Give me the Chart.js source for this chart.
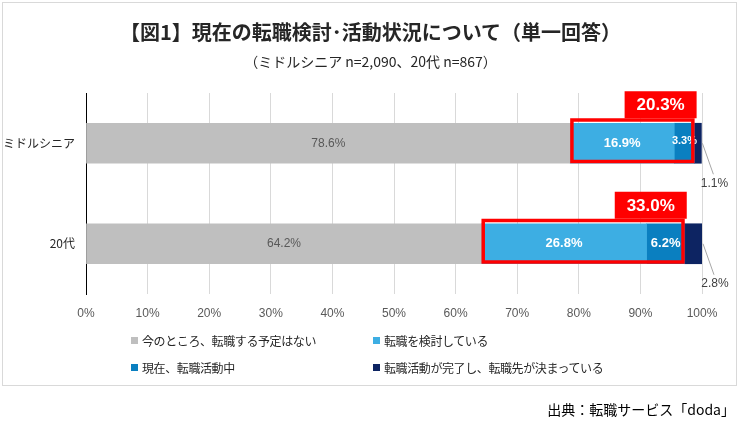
<!DOCTYPE html>
<html>
<head>
<meta charset="utf-8">
<script src="https://cdn.jsdelivr.net/npm/chart.js@4.4.1/dist/chart.umd.min.js"></script>
<style>
  body { margin: 0; background: #fff; font-family: "Noto Sans CJK JP", sans-serif; }
  #wrap { position: relative; width: 741px; height: 421px; overflow: hidden; }
  #frame { position: absolute; left: 2px; top: 2px; width: 733px; height: 382px; border: 1px solid #d9d9d9; }
  #chart { position: absolute; left: 0; top: 0; }
  .title { position: absolute; left: 0; width: 741px; text-align: center; top: 17px; font-size: 20px; font-weight: bold; color: #262626; }
  .sub { position: absolute; left: 0; width: 741px; text-align: center; top: 51px; font-size: 14px; color: #262626; }
  .legend { position: absolute; font-size: 12px; color: #262626; display: flex; align-items: center; letter-spacing: -0.4px; }
  .legend i { display: inline-block; width: 7px; height: 7px; margin-right: 4px; }
  .src { position: absolute; right: 6px; top: 399px; font-size: 14px; color: #000; }
</style>
</head>
<body>
<div id="wrap">
  <div id="frame"></div>
  <canvas id="chart" width="741" height="421"></canvas>
  <div class="title">【図1】現在の転職検討･活動状況について（単一回答）</div>
  <div class="sub">（ミドルシニア n=2,090、20代 n=867）</div>
  <div id="legendBox"></div>
  <div class="src">出典：転職サービス「doda」</div>
</div>
<script>
// chart data
const groups = ['ミドルシニア', '20代'];
const seriesNames = ['今のところ、転職する予定はない', '転職を検討している', '現在、転職活動中', '転職活動が完了し、転職先が決まっている'];
const notPlanning = [78.6, 64.2];
const considering = [16.9, 26.8];
const activeNow = [3.3, 6.2];
const decided = [1.1, 2.8];
const activeTotals = [20.3, 33.0];   // 検討+活動中 (as printed)
const seriesColors = ['#bfbfbf', '#3daee3', '#0a7fc0', '#0d2462'];

// legend (2 columns)
const legendBox = document.getElementById('legendBox');
seriesNames.forEach((name, i) => {
    const d = document.createElement('div');
    d.className = 'legend';
    d.style.left = (i % 2 === 0 ? 131 : 373) + 'px';
    d.style.top = (i < 2 ? 332 : 359) + 'px';
    d.innerHTML = '<i style="background:' + seriesColors[i] + '"></i>' + name;
    legendBox.appendChild(d);
});

// labels on segments, red frames and leader lines
const labelPlugin = {
    id: 'segLabels',
    afterDatasetsDraw(chart) {
        const ctx = chart.ctx;
        ctx.save();
        chart.data.datasets.forEach((ds, di) => {
            const meta = chart.getDatasetMeta(di);
            meta.data.forEach((bar, i) => {
                const p = bar.getProps(['x', 'y', 'base', 'height'], true);
                const txt = ds.data[i].toFixed(1) + '%';
                const w = p.x - p.base;
                ctx.textAlign = 'center';
                ctx.textBaseline = 'middle';
                if (di === 0) {
                    ctx.font = '12px "Liberation Sans"';
                    ctx.fillStyle = '#595959';
                    ctx.fillText(txt, p.base + w / 2, p.y);
                } else if (di < 3) {
                    ctx.font = 'bold ' + (w < 30 ? 11 : 13) + 'px "Liberation Sans"';
                    ctx.fillStyle = '#fff';
                    ctx.fillText(txt, p.base + w / 2, p.y - (w < 30 ? 2 : 0));
                } else {
                    // leader line to label below right
                    ctx.strokeStyle = '#a6a6a6';
                    ctx.lineWidth = 1;
                    ctx.beginPath();
                    ctx.moveTo(p.x + 1, p.y);
                    ctx.lineTo(p.x + 12, p.y + 31);
                    ctx.stroke();
                    ctx.font = '12px "Liberation Sans"';
                    ctx.fillStyle = '#404040';
                    ctx.fillText(txt, p.x + 13, p.y + 40);
                }
            });
        });

        // red frames around 検討 + 活動中
        const m1 = chart.getDatasetMeta(1), m2 = chart.getDatasetMeta(2);
        activeTotals.forEach((tot, i) => {
            const a = m1.data[i].getProps(['x', 'y', 'base', 'height'], true);
            const b = m2.data[i].getProps(['x', 'y', 'base', 'height'], true);
            const left = a.base, right = b.x;
            const top = a.y - a.height / 2 - 5, bottom = a.y + a.height / 2;
            ctx.strokeStyle = '#ff0000';
            ctx.lineWidth = 3.5;
            ctx.strokeRect(left + 1.75, top + 1.75, right - left - 3.5, bottom - top - 3.5);
            const bw = 72, bh = 27;
            ctx.fillStyle = '#ff0000';
            ctx.fillRect(right + 2 - bw, top - bh, bw, bh);
            ctx.fillStyle = '#fff';
            ctx.font = 'bold 17px "Liberation Sans"';
            ctx.textAlign = 'center';
            ctx.textBaseline = 'middle';
            ctx.fillText(tot.toFixed(1) + '%', right + 2 - bw / 2, top - bh / 2 + 1);
        });
        ctx.restore();
    }
};

const barChart = document.getElementById('chart').getContext('2d');
const barChartInstance = new Chart(barChart, {
    type: 'bar',
    data: {
        labels: groups,
        datasets: [notPlanning, considering, activeNow, decided].map((vals, i) => ({
            label: seriesNames[i],
            data: vals,
            backgroundColor: seriesColors[i],
            borderWidth: 0,
            barThickness: 40
        }))
    },
    options: {
        indexAxis: 'y',
        responsive: false,
        animation: false,
        layout: { padding: { top: 93, right: 39, bottom: 97, left: 0 } },
        plugins: {
            legend: { display: false },
            tooltip: { enabled: false }
        },
        scales: {
            x: {
                stacked: true,
                min: 0,
                max: 100,
                grid: { color: '#d9d9d9', drawTicks: false },
                border: { display: false },
                ticks: {
                    stepSize: 10,
                    padding: 12,
                    color: '#595959',
                    font: { family: 'Liberation Sans', size: 12 },
                    callback: v => v + '%'
                },
                afterFit: s => { s.height = 30; }
            },
            y: {
                stacked: true,
                grid: { display: false, drawTicks: false },
                border: { display: true, color: '#000', width: 1 },
                ticks: {
                    padding: 11,
                    color: '#262626',
                    font: { family: 'Noto Sans CJK JP', size: 12 }
                },
                afterFit: s => { s.width = 86; }
            }
        }
    },
    plugins: [labelPlugin]
});
</script>
</body>
</html>
